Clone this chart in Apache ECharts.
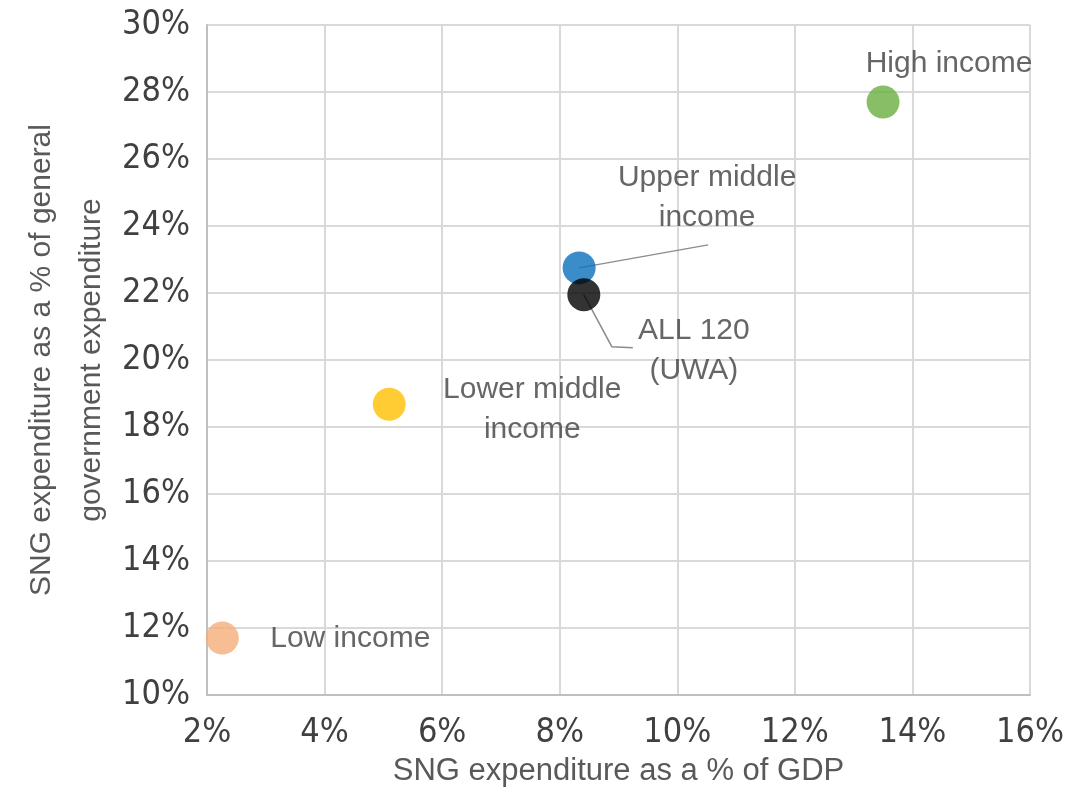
<!DOCTYPE html>
<html>
<head>
    <meta charset="utf-8">
    <title>SNG expenditure</title>
    <script src="https://cdn.jsdelivr.net/npm/echarts@6/dist/echarts.min.js"></script>
    <style>
        html, body { margin: 0; padding: 0; background: #fff; }
        #box { width: 1089px; height: 804px; }
    </style>
</head>
<body>
    <div id="box"></div>
    <script>
        // data (percent)
        var groups = ['High income', 'Upper middle income', 'ALL 120 (UWA)', 'Lower middle income', 'Low income'];
        var labels = ['High income', 'Upper middle\nincome', 'ALL 120\n(UWA)', 'Lower middle\nincome', 'Low income'];
        var gdpShare = [13.5, 8.33, 8.41, 5.1, 2.26];
        var govShare = [27.7, 22.75, 21.95, 18.68, 11.7];
        var colors = ['#6aae3e', '#0a70bd', '#000000', '#ffc000', '#f5ae7c'];
        var xTicks = [2, 4, 6, 8, 10, 12, 14, 16];
        var yTicks = [10, 12, 14, 16, 18, 20, 22, 24, 26, 28, 30];

        // label shifts from the dot centre, px
        var labelShift = [[66, -38], [128, -70], [110, 56], [143, 6], [128, 1]];
        // leader line bends, px from the dot centre (null = no line)
        var leader = [null, [[129, -23]], [[28, 52], [49, 53]], null, null];

        var font = '"Liberation Sans", Arial, sans-serif';
        var narrow = '"Liberation Sans Narrow", "Arial Narrow", "DejaVu Sans Condensed", sans-serif';
        var myChart = echarts.init(document.getElementById('box'));

        var points = gdpShare.map(function (x, i) {
            return {
                name: groups[i],
                value: [x, govShare[i]],
                itemStyle: { color: colors[i] },
                label: { formatter: labels[i] }
            };
        });

        var option = {
            animation: false,
            grid: { left: 207, right: 59, top: 25, bottom: 109, outerBoundsMode: 'none', containLabel: false },
            xAxis: {
                type: 'value',
                min: xTicks[0],
                max: xTicks[xTicks.length - 1],
                interval: 2,
                name: 'SNG expenditure as a % of GDP',
                nameLocation: 'middle',
                nameGap: 61,
                nameMoveOverlap: false,
                nameTextStyle: { fontFamily: font, fontSize: 31, color: '#595959' },
                axisLine: { lineStyle: { color: '#bfbfbf', width: 2 } },
                axisTick: { show: false },
                axisLabel: { formatter: '{value}%', fontFamily: narrow, fontSize: 34, color: '#404040', margin: 21 },
                splitLine: { lineStyle: { color: '#d9d9d9', width: 2 } }
            },
            yAxis: {
                type: 'value',
                min: yTicks[0],
                max: yTicks[yTicks.length - 1],
                interval: 2,
                name: 'SNG expenditure as a % of general\ngovernment expenditure',
                nameLocation: 'middle',
                nameGap: 90,
                nameMoveOverlap: false,
                nameTextStyle: { fontFamily: font, fontSize: 30, color: '#595959', lineHeight: 50 },
                axisLine: { lineStyle: { color: '#bfbfbf', width: 2 } },
                axisTick: { show: false },
                axisLabel: { formatter: '{value}%', fontFamily: narrow, fontSize: 34, color: '#404040', margin: 17 },
                splitLine: { lineStyle: { color: '#d9d9d9', width: 2 } }
            },
            series: [{
                type: 'scatter',
                symbolSize: 33,
                z: 3,
                data: points,
                label: {
                    show: true,
                    position: 'inside',
                    fontFamily: font,
                    fontSize: 30,
                    lineHeight: 40,
                    color: '#404040'
                },
                labelLayout: function (p) {
                    var s = labelShift[p.dataIndex];
                    return { dx: s[0], dy: s[1] };
                }
            }]
        };
        myChart.setOption(option);

        // leader lines, anchored on the dots through the chart's own scales
        var guides = [];
        leader.forEach(function (bends, i) {
            if (!bends) return;
            var c = myChart.convertToPixel('grid', [gdpShare[i], govShare[i]]);
            var pts = [[c[0], c[1]]].concat(bends.map(function (d) {
                return [c[0] + d[0], c[1] + d[1]];
            }));
            guides.push({
                type: 'polyline',
                z: 2,
                silent: true,
                shape: { points: pts },
                style: { stroke: '#8c8c8c', lineWidth: 1.5, fill: null }
            });
        });
        myChart.setOption({ graphic: guides });
    </script>
</body>
</html>
